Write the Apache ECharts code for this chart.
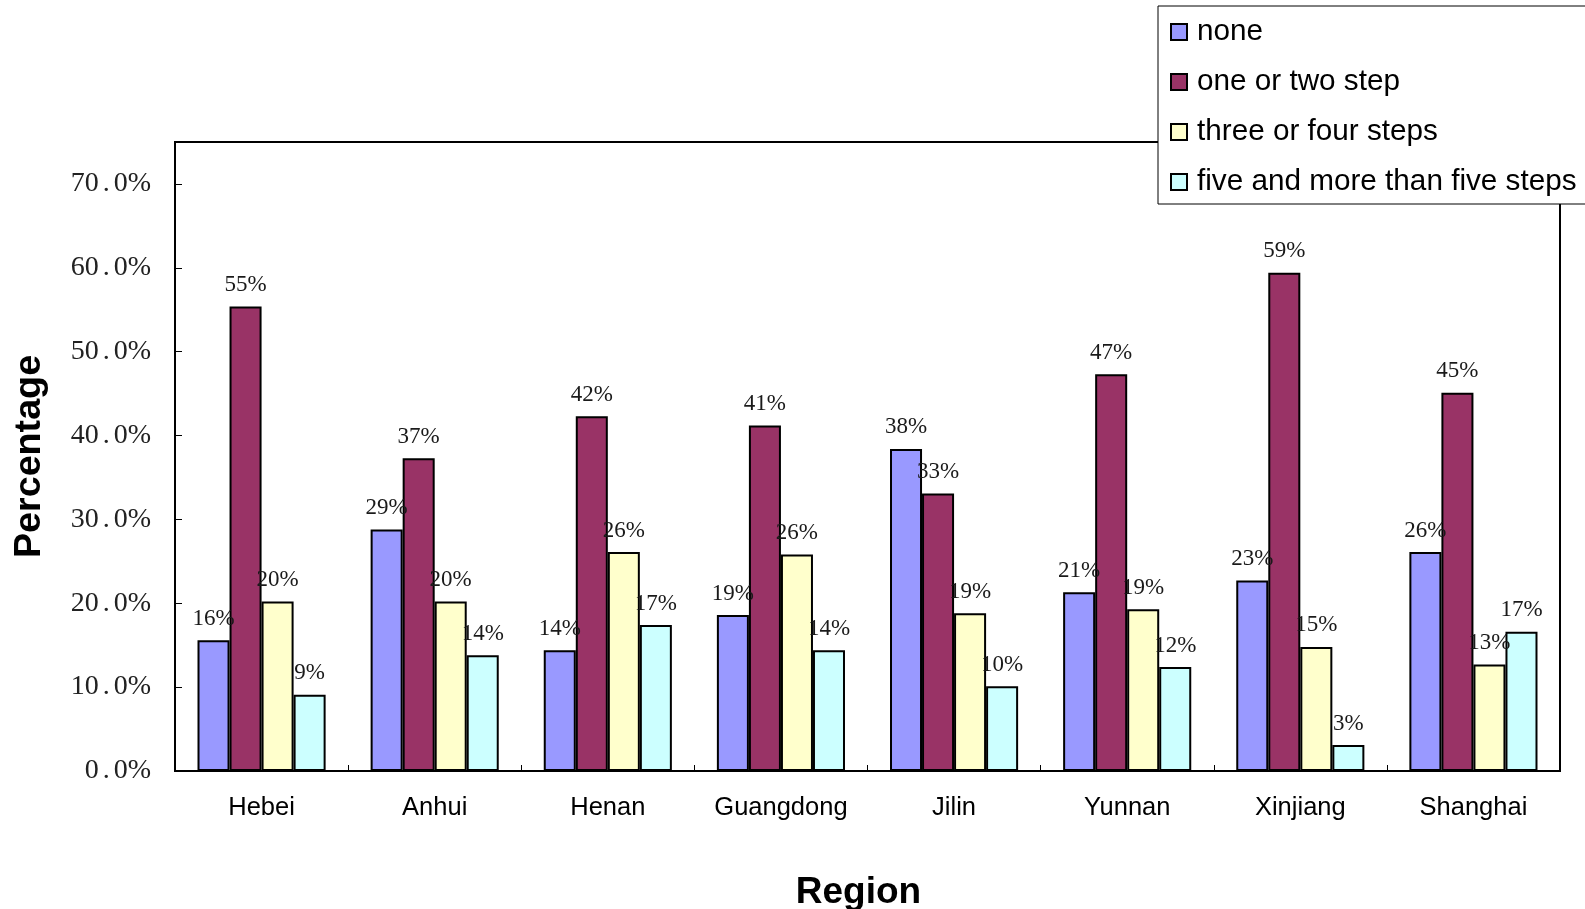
<!DOCTYPE html>
<html>
<head>
<meta charset="utf-8">
<script src="https://cdn.jsdelivr.net/npm/echarts@6/dist/echarts.min.js"></script>
<style>
  html, body { margin: 0; padding: 0; background: #ffffff; }
  #chart { width: 1585px; height: 909px; }
</style>
</head>
<body>
<div id="chart"></div>
<script>
// Regions along the category axis
const regions = ['Hebei', 'Anhui', 'Henan', 'Guangdong', 'Jilin', 'Yunnan', 'Xinjiang', 'Shanghai'];

// Series names (legend order)
const seriesNames = ['none', 'one or two step', 'three or four steps', 'five and more than five steps'];

// Percentage of respondents per region, one array per series
const noneVals      = [15.6, 28.8, 14.4, 18.6, 38.4, 21.3, 22.7, 26.1];
const oneTwoVals    = [55.4, 37.3, 42.3, 41.2, 33.1, 47.3, 59.4, 45.1];
const threeFourVals = [20.2, 20.2, 26.1, 25.8, 18.8, 19.3, 14.8, 12.7];
const fivePlusVals  = [9.1, 13.8, 17.4, 14.4, 10.1, 12.4, 3.1, 16.6];

// Value axis range and step (percent)
const yMin = 0;
const yMax = 75;
const yStep = 10;

const seriesColors = ['#9999FF', '#993366', '#FFFFCC', '#CCFFFF'];
const seriesData = [noneVals, oneTwoVals, threeFourVals, fivePlusVals];

const serifFont = '"Liberation Serif", "DejaVu Serif", serif';
const sansFont = '"Liberation Sans", Arial, sans-serif';

const chart = echarts.init(document.getElementById('chart'), null, { renderer: 'canvas' });

chart.setOption({
  backgroundColor: '#ffffff',
  animation: false,
  grid: {
    left: 175,
    right: 25,
    top: 142,
    bottom: 138,
    containLabel: false,
    outerBoundsMode: 'none',
    show: true,
    borderColor: '#000000',
    borderWidth: 2,
    backgroundColor: 'transparent'
  },
  legend: {
    orient: 'vertical',
    left: 1158,
    top: 6,
    padding: [11, 10, 7, 12],
    itemGap: 20,
    itemWidth: 16,
    itemHeight: 16,
    backgroundColor: '#ffffff',
    borderColor: '#000000',
    borderWidth: 1,
    icon: 'rect',
    data: seriesNames,
    textStyle: {
      fontFamily: sansFont,
      fontSize: 29.7,
      lineHeight: 30,
      color: '#000000',
      padding: [0, 0, 0, 5]
    }
  },
  xAxis: {
    type: 'category',
    data: regions,
    name: 'Region',
    nameLocation: 'middle',
    nameGap: 103,
    nameTextStyle: {
      fontFamily: sansFont,
      fontSize: 37,
      fontWeight: 'bold',
      color: '#000000',
      padding: [0, 18, 0, 0]
    },
    axisLine: { show: true, lineStyle: { color: '#000000', width: 2 } },
    axisTick: { show: true, inside: true, length: 6, lineStyle: { color: '#000000', width: 1 } },
    axisLabel: {
      interval: 0,
      fontFamily: sansFont,
      fontSize: 25.5,
      color: '#000000',
      margin: 24
    },
    splitLine: { show: false }
  },
  yAxis: {
    type: 'value',
    min: yMin,
    max: yMax,
    interval: yStep,
    name: 'Percentage',
    nameLocation: 'middle',
    nameGap: 126,
    nameTextStyle: {
      fontFamily: sansFont,
      fontSize: 37.7,
      fontWeight: 'bold',
      color: '#000000'
    },
    axisLine: { show: true, lineStyle: { color: '#000000', width: 2 } },
    axisTick: { show: true, inside: true, length: 7, lineStyle: { color: '#000000', width: 1 } },
    axisLabel: {
      fontFamily: serifFont,
      fontSize: 28,
      color: '#222222',
      margin: 24,
      // wide decimal point, as in the original typeface
      formatter: function (v) {
        if (v % yStep !== 0) return '';
        const parts = v.toFixed(1).split('.');
        return '{n|' + parts[0] + '}{p|.}{n|' + parts[1] + '%}';
      },
      rich: {
        n: { fontFamily: serifFont, fontSize: 28, color: '#222222' },
        p: { fontFamily: serifFont, fontSize: 28, color: '#222222', width: 15, align: 'left' }
      }
    },
    splitLine: { show: false }
  },
  series: seriesNames.map(function (name, i) {
    return {
      name: name,
      type: 'bar',
      data: seriesData[i],
      barGap: '0%',
      barCategoryGap: '26%',
      itemStyle: {
        color: seriesColors[i],
        borderColor: '#000000',
        borderWidth: 2
      },
      label: {
        show: true,
        position: 'top',
        distance: 10,
        fontFamily: serifFont,
        fontSize: 23,
        color: '#1a1a1a',
        formatter: function (p) { return Math.round(p.value) + '%'; }
      }
    };
  })
});
</script>
</body>
</html>
